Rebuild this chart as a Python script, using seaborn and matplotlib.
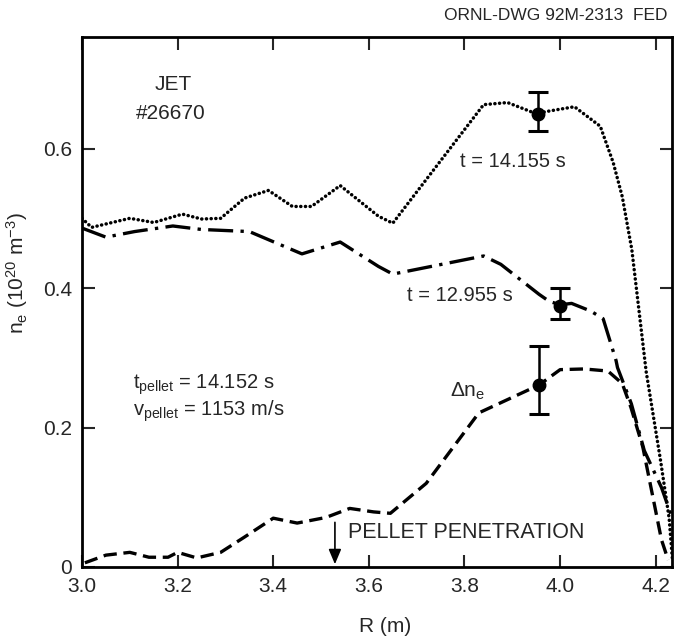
import matplotlib
matplotlib.use("Agg")
import matplotlib.pyplot as plt
import seaborn as sns
import pandas as pd
import numpy as np

# ---- data ----
r_late = [3.00, 3.02, 3.10, 3.15, 3.21, 3.25, 3.29, 3.34, 3.39, 3.44, 3.48, 3.54,
          3.62, 3.65, 3.84, 3.89, 3.95, 3.97, 4.03, 4.084, 4.111, 4.13, 4.15,
          4.18, 4.21, 4.228, 4.235]
ne_late = [0.500, 0.487, 0.500, 0.494, 0.506, 0.499, 0.500, 0.529, 0.540, 0.517,
           0.517, 0.547, 0.503, 0.493, 0.663, 0.666, 0.650, 0.653, 0.660, 0.632,
           0.580, 0.531, 0.455, 0.280, 0.153, 0.070, 0.010]

r_early = [3.00, 3.05, 3.11, 3.19, 3.25, 3.35, 3.46, 3.54, 3.62, 3.65, 3.84, 3.876,
           3.956, 3.977, 4.00, 4.024, 4.064, 4.09, 4.117, 4.12, 4.149, 4.176,
           4.212, 4.234]
ne_early = [0.486, 0.473, 0.481, 0.489, 0.484, 0.481, 0.449, 0.466, 0.431, 0.420,
            0.446, 0.434, 0.391, 0.381, 0.376, 0.378, 0.367, 0.356, 0.296, 0.286,
            0.234, 0.167, 0.114, 0.071]

r_delta = [3.006, 3.05, 3.10, 3.14, 3.18, 3.20, 3.24, 3.29, 3.34, 3.40, 3.45, 3.51,
           3.56, 3.61, 3.645, 3.72, 3.83, 3.956, 4.00, 4.05, 4.10, 4.13, 4.148,
           4.173, 4.19, 4.212, 4.226]
ne_delta = [0.006, 0.017, 0.021, 0.014, 0.014, 0.021, 0.013, 0.021, 0.043, 0.070,
            0.063, 0.071, 0.084, 0.079, 0.077, 0.120, 0.221, 0.261, 0.283, 0.284,
            0.281, 0.263, 0.229, 0.172, 0.114, 0.039, 0.010]

# error-bar points: R, value, lower, upper
err_r = [3.953, 4.000, 3.956]
err_ne = [0.650, 0.374, 0.261]
err_lo = [0.625, 0.355, 0.219]
err_hi = [0.681, 0.400, 0.317]

x_ticks = [3.0, 3.2, 3.4, 3.6, 3.8, 4.0, 4.2]
x_tick_labels = ["3.0", "3.2", "3.4", "3.6", "3.8", "4.0", "4.2"]
y_ticks = [0, 0.2, 0.4, 0.6]
y_tick_labels = ["0", "0.2", "0.4", "0.6"]

pellet_r = 3.529

# ---- style ----
sns.set_style("ticks")
plt.rcParams["font.family"] = ["Liberation Sans", "DejaVu Sans"]
plt.rcParams["mathtext.fontset"] = "custom"
plt.rcParams["mathtext.rm"] = "Liberation Sans"
plt.rcParams["mathtext.it"] = "Liberation Sans:italic"
plt.rcParams["mathtext.bf"] = "Liberation Sans:bold"

fig = plt.figure(figsize=(6.76, 6.37), dpi=100)
ax = fig.add_axes([82 / 676, 70 / 637, 590 / 676, 530 / 637])

df_late = pd.DataFrame({"R": r_late, "ne": ne_late})
df_early = pd.DataFrame({"R": r_early, "ne": ne_early})
df_delta = pd.DataFrame({"R": r_delta, "ne": ne_delta})

sns.lineplot(data=df_late, x="R", y="ne", ax=ax, sort=False, estimator=None,
             color="black", lw=2.5, linestyle=(0, (0.05, 1.3)),
             dash_capstyle="round")
sns.lineplot(data=df_early, x="R", y="ne", ax=ax, sort=False, estimator=None,
             color="black", lw=2.4, linestyle=(0, (7.5, 2.2, 1, 2.2)))
sns.lineplot(data=df_delta, x="R", y="ne", ax=ax, sort=False, estimator=None,
             color="black", lw=2.4, linestyle=(0, (4, 2)))

yerr = np.array([np.array(err_ne) - np.array(err_lo),
                 np.array(err_hi) - np.array(err_ne)])
ax.errorbar(err_r, err_ne, yerr=yerr, fmt="o", color="black", ms=9,
            elinewidth=1.8, capsize=7, capthick=2.2, zorder=5)

# arrow
ax.annotate("", xy=(pellet_r, 0.004), xytext=(pellet_r, 0.064),
            arrowprops=dict(arrowstyle="-|>,head_length=0.9,head_width=0.38",
                            color="black", lw=1.2, shrinkA=0, shrinkB=0))
ax.text(3.556, 0.050, "PELLET PENETRATION", fontsize=15.5, ha="left", va="center")

ax.text(3.190, 0.692, "JET", fontsize=15, ha="center", va="center")
ax.text(3.185, 0.651, "#26670", fontsize=15, ha="center", va="center")
ax.text(3.791, 0.581, "t = 14.155 s", fontsize=14.5, ha="left", va="center")
ax.text(3.680, 0.390, "t = 12.955 s", fontsize=14.5, ha="left", va="center")
ax.text(3.770, 0.252, r"$\Delta$n$_{\rm e}$", fontsize=15, ha="left", va="center")
ax.text(3.107, 0.262, r"t$_{\rm pellet}$ = 14.152 s", fontsize=14.5, ha="left", va="center")
ax.text(3.107, 0.224, r"v$_{\rm pellet}$ = 1153 m/s", fontsize=14.5, ha="left", va="center")

fig.text(668 / 676, 1 - 15 / 637, "ORNL-DWG 92M-2313  FED", fontsize=12.5,
         ha="right", va="center")

ax.set_xlim(3.0, 4.234)
ax.set_ylim(0, 0.76)
ax.set_xticks(x_ticks)
ax.set_xticklabels(x_tick_labels)
ax.set_yticks(y_ticks)
ax.set_yticklabels(y_tick_labels)
ax.tick_params(direction="in", length=9, width=1.5, labelsize=15,
               top=True, right=True, pad=7)
for s in ax.spines.values():
    s.set_linewidth(2.0)
    s.set_color("black")

ax.set_xlabel("R (m)", fontsize=15)
ax.set_ylabel(r"n$_{\rm e}$ (10$^{20}$ m$^{-3}$)", fontsize=15)
ax.xaxis.set_label_coords((385 - 82) / 590, -50 / 530)
ax.yaxis.set_label_coords(-(82 - 30) / 590, (567 - 273) / 530)

fig.savefig("out.png", dpi=100)
